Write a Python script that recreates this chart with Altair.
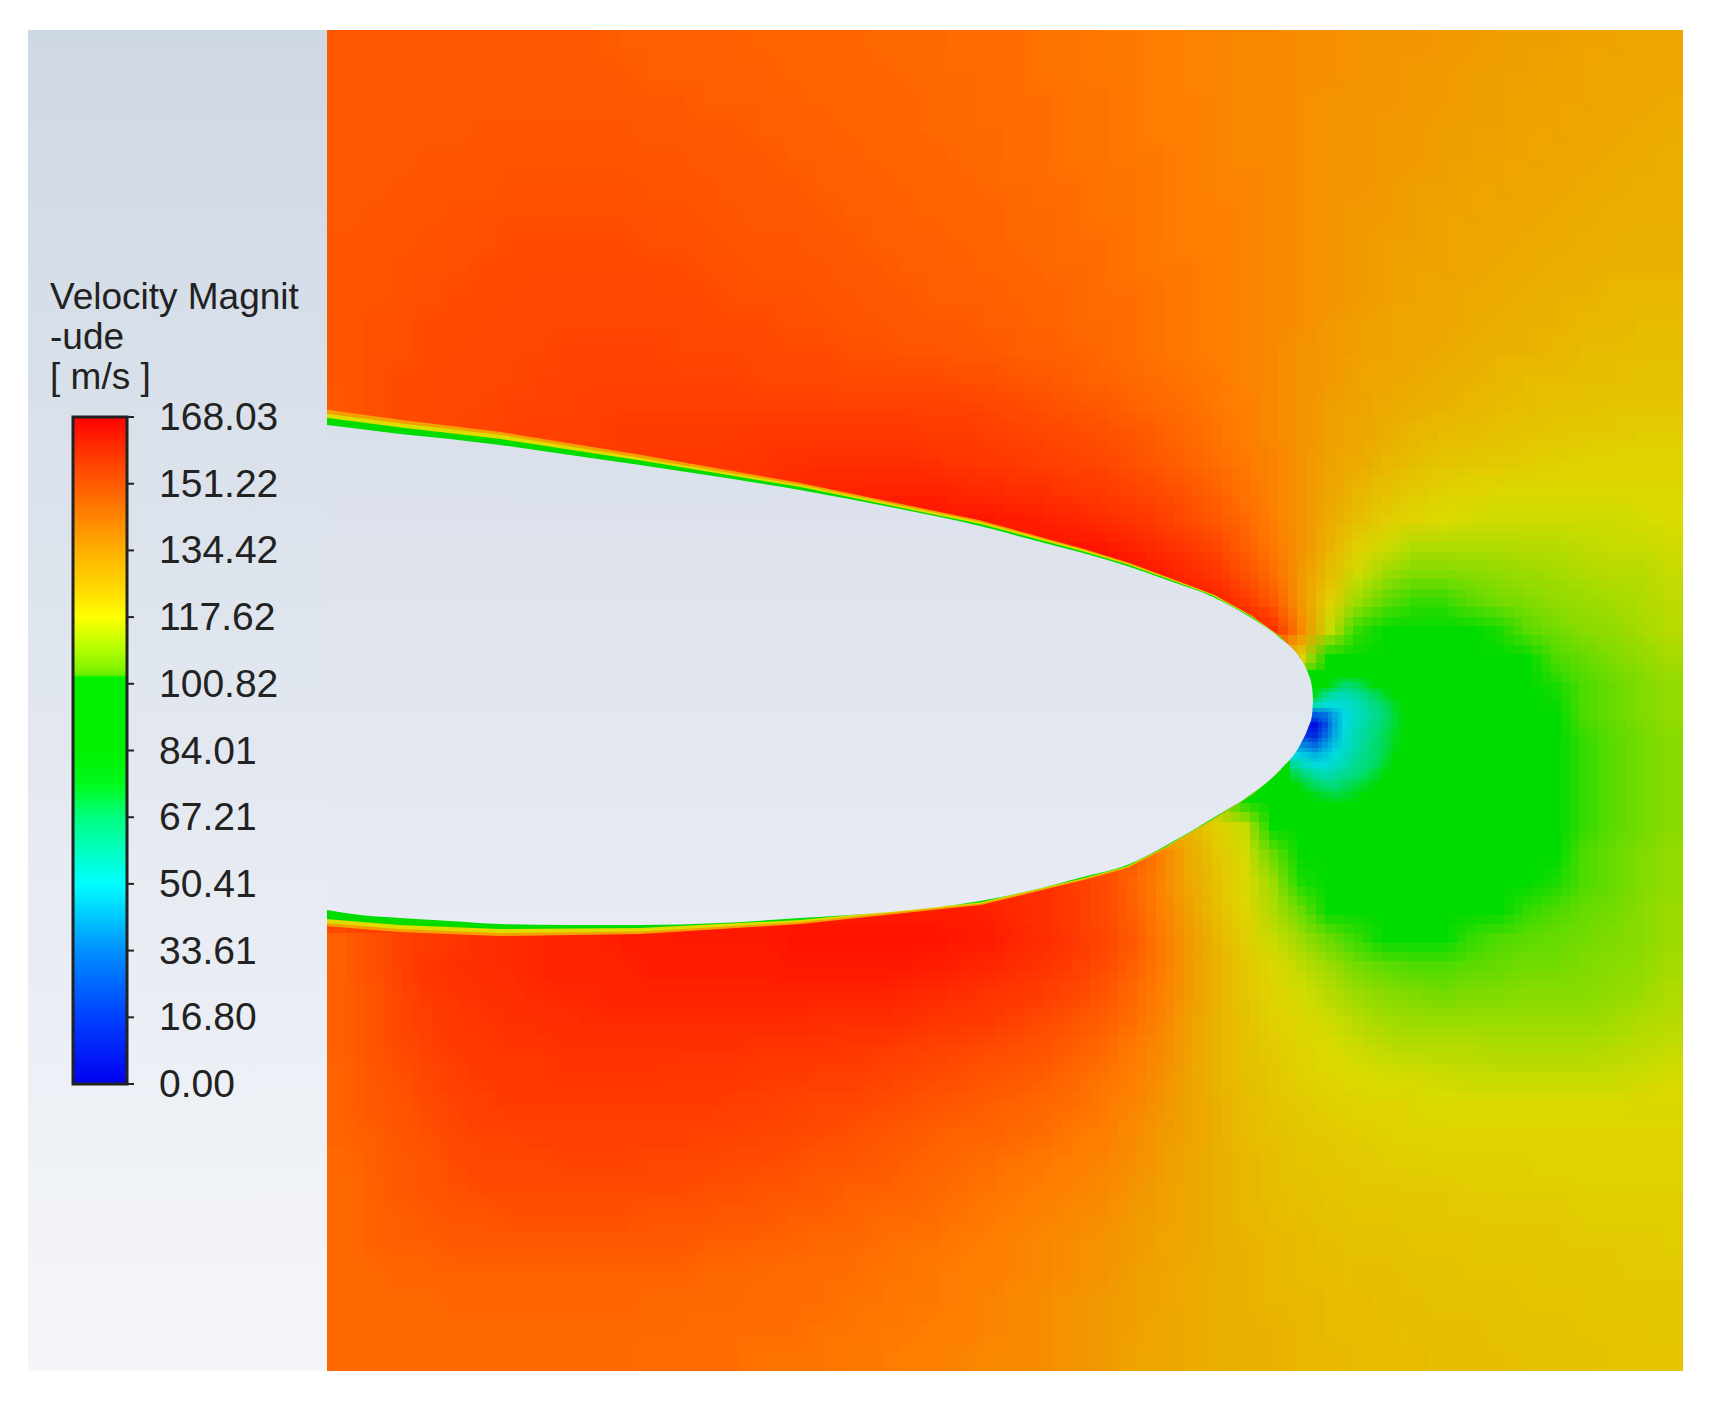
import altair as alt
import pandas as pd

# ---------- colour legend ----------
legend_title = ["Velocity Magnit", "-ude", "[ m/s ]"]
tick_values = [168.03, 151.22, 134.42, 117.62, 100.82, 84.01, 67.21, 50.41, 33.61, 16.80, 0.00]
tick_labels = ["168.03", "151.22", "134.42", "117.62", "100.82", "84.01", "67.21", "50.41", "33.61", "16.80", "0.00"]
bar_stop_values = [168.03, 160, 151.22, 134.42, 125, 117.62, 110, 105, 103.2, 102.4, 84, 75, 67.21, 50.41, 42, 33.61, 16.8, 0]
bar_stop_colors = ["#ff0000", "#ff3000", "#ff5a00", "#ffb000", "#ffd800", "#ffff00", "#b8ff00", "#88f400", "#70f000",
                   "#00f000", "#00f000", "#00fb20", "#00ff80", "#00ffff", "#00c8ff", "#0090ff", "#0040ff", "#0000f0"]
field_stop_values = [0, 12, 28, 45, 58, 70, 85, 100, 103, 107, 112, 118, 128, 136, 142, 148, 154, 160, 168.03]
field_stop_colors = ["#0000e0", "#0040e0", "#0090e0", "#00dce0", "#00dcb0", "#00dc70", "#00dc00", "#00dc00", "#50dc00",
                     "#80dc00", "#b0dc00", "#dedc00", "#e8c000", "#f2a000", "#ff8000", "#ff6000", "#ff4400", "#ff3000", "#ff0c00"]

# ---------- velocity, one list per row (top to bottom) ----------
row_00 = [149,149,149,149,149,149,149,149,149,149,148,148,148,148,148,147,147,147,147,146,146,146,145,145,145,144,144,143,143,142,141,141,140,140,139,139,138,138,138,137,137,136,136,136,135,135,134,134]
row_01 = [149,149,149,149,149,149,149,149,149,149,149,148,148,148,148,148,147,147,147,147,146,146,146,145,145,144,144,143,143,142,141,141,140,140,139,139,138,138,137,137,136,136,136,135,135,134,134,134]
row_02 = [149,149,149,149,149,149,149,149,149,149,149,149,149,148,148,148,148,147,147,147,147,146,146,145,145,145,144,144,143,142,142,141,140,140,139,138,138,138,137,137,136,136,135,135,135,134,134,133]
row_03 = [149,149,149,149,149,150,150,150,150,150,150,149,149,149,149,148,148,148,147,147,147,146,146,146,145,145,144,144,143,142,142,141,140,140,139,138,138,137,137,136,136,136,135,135,134,134,133,133]
row_04 = [149,149,149,150,150,150,150,150,150,150,150,150,150,149,149,149,148,148,148,147,147,147,146,146,145,145,144,144,143,143,142,141,140,140,139,138,138,137,137,136,136,135,135,134,134,133,133,132]
row_05 = [149,149,150,150,150,150,151,151,151,151,151,150,150,150,149,149,149,148,148,148,147,147,147,146,146,145,145,144,144,143,142,141,141,140,139,138,138,137,136,136,135,135,134,134,133,133,132,132]
row_06 = [149,150,150,150,151,151,151,151,151,151,151,151,151,150,150,149,149,149,148,148,148,147,147,147,146,146,145,144,144,143,142,142,141,140,139,138,137,137,136,135,135,134,134,133,133,132,132,132]
row_07 = [150,150,150,151,151,151,152,152,152,152,152,151,151,151,150,150,150,149,149,148,148,148,147,147,146,146,145,145,144,143,142,142,141,140,139,138,137,136,136,135,134,134,133,133,132,132,131,131]
row_08 = [150,150,151,151,151,152,152,152,152,152,152,152,152,151,151,150,150,150,149,149,148,148,148,147,147,146,146,145,144,143,143,142,141,140,139,138,137,136,135,135,134,133,133,132,132,131,131,131]
row_09 = [150,150,151,151,152,152,152,153,153,153,153,152,152,152,151,151,151,150,150,149,149,148,148,148,147,147,146,145,145,144,143,142,141,140,139,138,137,136,135,134,133,133,132,131,131,130,130,130]
row_10 = [150,151,151,152,152,152,153,153,153,153,153,153,153,152,152,152,151,151,150,150,149,149,149,148,148,147,146,146,145,144,143,142,141,140,139,137,136,135,134,134,133,132,131,131,130,130,129,129]
row_11 = [150,151,151,152,152,153,153,153,154,154,154,154,153,153,153,152,152,152,151,151,150,150,149,149,148,148,147,146,145,144,143,142,141,140,138,137,136,135,134,133,132,131,131,130,129,129,128,128]
row_12 = [150,151,152,152,153,153,153,154,154,154,154,154,154,154,154,153,153,153,152,152,152,152,151,151,150,149,148,147,146,145,144,143,141,140,138,137,135,134,133,132,131,130,129,129,128,128,127,127]
row_13 = [149,151,152,152,153,153,154,154,154,155,155,155,155,155,155,155,155,155,155,155,155,154,154,153,152,151,150,149,147,146,145,143,142,140,138,136,135,133,132,131,130,129,128,127,127,126,126,126]
row_14 = [150,151,152,153,153,154,154,155,155,155,156,156,156,156,156,157,157,157,157,157,157,156,156,155,154,153,152,151,150,148,146,144,142,140,138,136,134,132,130,129,128,127,126,125,124,124,123,123]
row_15 = [150,151,152,153,154,154,155,155,155,156,156,157,157,157,158,158,159,160,160,160,160,159,158,157,156,155,154,153,151,149,147,145,143,141,138,135,133,130,128,126,125,124,123,122,121,120,120,120]
row_16 = [155]*15 + [160,161,162,162,163,163,163,162,161,160,159,157,156,154,152,150,147,144,141,138,134,130,127,124,122,120,119,119,119,119,119,119,119]
row_17 = [158]*19 + [165,165,165,165,165,164,163,162,160,158,155,152,149,146,142,138,133,128,123,120,118,117,116,116,116,116,116,117,118]
row_18 = [160]*24 + [166,166,166,165,163,160,157,153,148,143,138,131,122,116,112,112,112,112,113,113,114,115,115,116]
row_19 = [160]*27 + [168,167,165,161,157,151,145,137,128,116,110,107,107,108,109,110,111,112,113,113,115]
row_20 = [160]*30 + [166,163,157,149,137,122,110,104,102,102,104,106,107,109,110,111,112,114]
row_21 = [160]*32 + [165,160,140,115,102,96,95,95,98,101,104,106,108,109,111,113]
row_22 = [150]*33 + [130,120,100,95,95,95,95,95,95,99,103,105,107,109,111]
row_23 = [95]*35 + [92,92,92,92,92,92,92,95,101,103,105,107,109]
row_24 = [95]*35 + [92,92,92,92,92,92,92,95,100,103,105,107,109]
row_25 = [95]*35 + [92,92,92,92,92,92,92,93,98,102,104,106,108]
row_26 = [95]*35 + [92,92,92,92,92,92,92,93,98,102,104,106,108]
row_27 = [110]*32 + [100,95,92,92,92,92,92,92,92,92,93,98,102,104,106,108]
row_28 = [130]*31 + [122,115,100,95,92,92,92,92,92,92,92,93,98,102,104,106,108]
row_29 = [150]*29 + [142,133,125,117,105,98,95,95,95,95,95,95,95,95,100,103,105,107,109]
row_30 = [160]*26 + [155,152,147,141,134,127,119,110,101,97,95,95,95,95,95,95,98,101,103,105,107,109]
row_31 = [164]*22 + [164,163,161,159,156,152,148,142,136,128,120,112,105,100,97,95,95,95,98,100,102,103,105,106,108,110]
row_32 = [148,151,154,156,158,160,161,162,163,163,164,164,165,165,165,165,166,166,166,166,166,166,165,164,162,160,157,153,149,143,137,130,123,115,110,105,102,100,100,100,102,103,104,105,106,107,108,110]
row_33 = [148,151,154,157,159,160,161,162,163,163,163,164,164,164,164,164,165,165,165,165,165,164,163,162,160,158,155,152,148,143,137,131,125,119,114,110,106,104,103,103,104,105,106,106,107,108,109,111]
row_34 = [148,150,153,156,158,159,160,161,162,162,163,163,163,163,163,163,163,163,163,163,162,161,160,158,157,155,153,150,146,142,137,131,126,121,117,113,110,108,107,106,107,107,108,108,108,109,110,112]
row_35 = [148,150,153,155,157,158,159,160,160,161,161,161,161,161,161,161,161,160,160,160,159,158,157,156,154,152,150,148,145,141,136,131,127,122,119,116,113,111,110,110,110,110,110,110,110,111,112,113]
row_36 = [148,150,152,154,156,157,158,158,159,159,159,159,159,159,159,158,158,158,157,156,155,154,153,152,151,150,148,146,143,140,136,131,127,124,121,118,116,114,113,113,113,112,112,112,112,113,114,115]
row_37 = [147,149,151,153,155,156,157,157,158,158,158,158,157,157,157,156,156,155,155,154,153,152,151,150,149,148,146,144,142,139,135,131,128,125,122,120,118,117,117,116,115,115,115,115,115,115,116,117]
row_38 = [147,149,150,152,154,155,156,156,156,156,156,156,156,156,155,155,154,153,153,152,151,150,149,148,147,146,145,143,141,138,135,132,129,126,124,122,121,120,119,118,118,118,118,118,118,118,119,119]
row_39 = [147,148,150,151,153,154,154,155,155,155,155,155,155,154,154,153,153,152,151,150,149,148,147,147,146,145,143,142,140,137,135,132,129,127,125,124,123,122,121,121,120,120,120,120,120,120,120,120]
row_40 = [146,148,149,150,152,153,153,153,154,154,154,153,153,153,152,152,151,150,150,149,148,147,146,145,144,143,142,141,139,137,134,132,130,128,126,125,124,123,123,122,122,122,122,121,121,121,121,121]
row_41 = [146,147,149,150,151,152,152,152,152,152,152,152,152,151,151,150,150,149,148,148,147,146,145,144,143,142,141,140,138,136,134,132,130,128,127,126,125,125,124,124,123,123,123,123,122,122,122,122]
row_42 = [146,147,148,149,150,150,151,151,151,151,151,150,150,150,149,149,148,148,147,146,146,145,144,143,142,141,140,139,137,136,134,132,130,129,128,127,126,126,125,125,125,124,124,124,123,123,123,123]
row_43 = [146,147,148,148,149,149,149,149,149,149,149,149,149,148,148,147,147,146,146,145,144,144,143,142,141,140,139,138,137,135,134,132,131,130,129,128,127,127,126,126,126,125,125,125,124,124,124,123]
row_44 = [146,146,147,147,147,147,147,147,147,147,147,147,147,146,146,146,145,145,145,144,144,143,142,142,141,140,139,138,136,135,133,132,131,130,129,129,128,128,127,127,126,126,126,125,125,125,124,124]
row_45 = [146,146,146,146,147,147,147,147,147,147,147,146,146,146,146,145,145,145,144,144,143,143,142,141,140,139,138,137,136,135,133,132,131,130,130,129,129,128,128,127,127,127,126,126,126,125,125,125]
row_46 = [146,146,146,146,146,146,146,146,146,146,146,146,146,145,145,145,145,144,144,143,143,142,142,141,140,139,138,137,136,134,133,132,131,131,130,129,129,129,128,128,128,127,127,127,126,126,126,125]
row_47 = [146,146,146,146,146,146,146,146,146,146,146,145,145,145,145,144,144,144,143,143,142,142,141,140,140,139,138,137,135,134,133,132,131,131,130,130,129,129,129,128,128,128,127,127,127,126,126,126]
field_rows = [row_00,row_01,row_02,row_03,row_04,row_05,row_06,row_07,row_08,row_09,row_10,row_11,row_12,row_13,row_14,row_15,
              row_16,row_17,row_18,row_19,row_20,row_21,row_22,row_23,row_24,row_25,row_26,row_27,row_28,row_29,row_30,row_31,
              row_32,row_33,row_34,row_35,row_36,row_37,row_38,row_39,row_40,row_41,row_42,row_43,row_44,row_45,row_46,row_47]

# ---------- finer read of the stagnation zone off the nose ----------
nose_rows = [
    [92,92,92,92,92,88,88,90,92,92,92,92],
    [92,92,92,88,78,70,72,78,84,90,92,92],
    [88,86,80,66,58,56,60,66,72,80,88,92],
    [76,66,56,48,46,48,54,60,66,72,80,90],
    [38,28,18,22,34,44,52,58,64,70,78,90],
    [5,5,3,14,32,46,54,60,66,72,78,88],
    [10,10,8,20,34,48,56,62,68,74,80,88],
    [30,25,20,30,40,50,58,64,70,74,82,90],
    [45,40,36,40,46,54,60,66,70,76,84,92],
    [62,52,48,46,52,58,64,68,72,80,88,92],
    [76,68,62,58,60,64,68,72,78,84,90,92],
    [86,78,72,68,68,72,76,80,84,90,92,92],
    [92,88,82,78,76,78,82,86,90,92,92,92],
    [92,92,92,88,86,86,90,92,92,92,92,92],
]

# ---------- body outline ----------
body_x = [327,360,400,450,500,570,640,720,800,890,980,1033,1083,1127,1167,1213,1250,1280,1300,1308,1312,1313]
body_upper = [425,429,434,439,445,455,465,477,490,507,526,540,553,566,580,597,617,638,658,673,687,700]
body_lower = [910,915,918,921,924,925,925,923,918,912,901,890,877,865,845,818,795,770,745,728,715,700]

# boundary layer on each surface: half-thicknesses read at stations along it
upper_x = [327,400,500,640,800,980,1083,1127,1167,1213,1250,1280,1300]
upper_y = [425,434,445,465,490,526,553,566,580,597,617,638,658]
upper_green = [7,6.5,6,4.5,3,2,1.6,1.5,1.3,1.2,1,0.8,0.5]
upper_yellow = [11,10.5,10,7,5,4,3,2.6,2.2,2,1.6,1.2,0.6]
upper_orange = [15,14,13,10,7,5.5,4.2,3.6,2.8,2.5,2,1.5,0.7]
lower_x = [327,400,500,640,800,980,1083,1127,1167,1213,1250,1280]
lower_y = [910,918,924,925,918,901,877,865,845,818,795,770]
lower_green = [9,7,5,3,2,1.5,1.3,1.2,1,1,0.8,0.5]
lower_yellow = [13,11,9,6.5,4,2.5,2.1,2,1.6,1.4,1,0.6]
lower_orange = [16,14,12,9,6,4,3.2,3,2.2,1.8,1.2,0.7]

# ---------- scaffolding ----------
X0, X1, Y0, Y1 = 327, 1683, 30, 1371
LEFT = 28
xs = alt.Scale(domain=[8, 1703], range=[0, 1695], nice=False, zero=False)
ys = alt.Scale(domain=[8, 1393], range=[0, 1385], nice=False, zero=False)
bar_scale = alt.Scale(domain=[0, 168.03], range=[1076, 409], nice=False, zero=False)
field_color = alt.Scale(domain=field_stop_values, range=field_stop_colors, interpolate="rgb")

def X(f): return alt.X(f, type="quantitative", scale=xs, axis=None)
def Y(f): return alt.Y(f, type="quantitative", scale=ys, axis=None)
def YB(f): return alt.Y(f, type="quantitative", scale=bar_scale, axis=None)

n_r, n_c = len(field_rows), len(field_rows[0])

def grid_layer(rows, x_at, y_at, dx, dy, op, lims):
    """One pass of a grid; passes nudged by part of a cell are averaged to soften the cell steps."""
    x_lo, x_hi, y_lo, y_hi = lims
    recs = []
    for r, row in enumerate(rows):
        for c, v in enumerate(row):
            a = x_lo if c == 0 else max(x_lo, round(x_at(c) + dx))
            b = x_hi if c == len(row) - 1 else min(x_hi, round(x_at(c + 1) + dx))
            t = y_lo if r == 0 else max(y_lo, round(y_at(r) + dy))
            u = y_hi if r == len(rows) - 1 else min(y_hi, round(y_at(r + 1) + dy))
            recs.append(dict(x0=a, x1=b, y0=t, y1=u, v=v))
    return alt.Chart(pd.DataFrame(recs)).mark_rect(strokeWidth=0, opacity=op).encode(
        x=X("x0"), x2="x1", y=Y("y0"), y2="y1",
        color=alt.Color("v:Q", scale=field_color, legend=None))

passes = []
k = 0
for dy in (0, -9.3, 9.3):
    for dx in (0, -9.4, 9.4):
        k += 1
        passes.append(grid_layer(field_rows,
                                 lambda c: X0 + (X1 - X0) * c / n_c,
                                 lambda r: Y0 + (Y1 - Y0) * r / n_r,
                                 dx, dy, round(1 / k, 4), (X0, X1, Y0, Y1)))
k = 0
for dy in (-2.5, 2.5):
    for dx in (-2.5, 2.5):
        k += 1
        passes.append(grid_layer(nose_rows,
                                 lambda c: 1290 + 10 * c,
                                 lambda r: 670 + 10 * r,
                                 dx, dy, round(1 / k, 4), (1290, 1410, 670, 810)))

def trail(xv, yv, half, colour):
    df = pd.DataFrame(dict(x=xv, y=yv, w=[2 * h for h in half]))
    return alt.Chart(df).mark_trail(color=colour).encode(
        x=X("x"), y=Y("y"), size=alt.Size("w:Q", scale=None, legend=None))

strips = [trail(upper_x, upper_y, upper_orange, "#f4a000"),
          trail(upper_x, upper_y, upper_yellow, "#dedc00"),
          trail(upper_x, upper_y, upper_green, "#00dc00"),
          trail(lower_x, lower_y, lower_orange, "#f4a000"),
          trail(lower_x, lower_y, lower_yellow, "#dedc00"),
          trail(lower_x, lower_y, lower_green, "#00dc00")]

body_fill = alt.LinearGradient(gradient="linear", x1=0, x2=0, y1=0, y2=1,
                               stops=[alt.GradientStop(color="#dae0ea", offset=0),
                                      alt.GradientStop(color="#e8ebf3", offset=1)])
body = alt.Chart(pd.DataFrame(dict(x=body_x, u=body_upper, l=body_lower))).mark_area(
    color=body_fill, interpolate="monotone").encode(x=X("x"), y=Y("u"), y2="l")

panel_fill = alt.LinearGradient(gradient="linear", x1=0, x2=0, y1=0, y2=1,
                                stops=[alt.GradientStop(color="#ced8e4", offset=0),
                                       alt.GradientStop(color="#f5f6fa", offset=1)])
panel = alt.Chart(pd.DataFrame([dict(a=LEFT, b=X0, c=Y0, d=Y1)])).mark_rect(color=panel_fill, strokeWidth=0).encode(
    x=X("a"), x2="b", y=Y("c"), y2="d")

bar_fill = alt.LinearGradient(gradient="linear", x1=0, x2=0, y1=0, y2=1,
                              stops=[alt.GradientStop(color=col, offset=round(1 - v / 168.03, 4))
                                     for v, col in zip(bar_stop_values, bar_stop_colors)])
bar = alt.Chart(pd.DataFrame([dict(a=73, b=127, lo=0.0, hi=168.03)])).mark_rect(
    color=bar_fill, stroke="#222222", strokeWidth=3).encode(
    x=X("a"), x2="b", y=YB("lo"), y2="hi")

ticks = pd.DataFrame(dict(v=tick_values, t=tick_labels, a=[127] * len(tick_values), b=[134] * len(tick_values),
                          lx=[159] * len(tick_values)))
tick_rules = alt.Chart(ticks).mark_rule(color="#222222", strokeWidth=2).encode(
    x=X("a"), x2="b", y=YB("v"))
tick_text = alt.Chart(ticks).mark_text(align="left", baseline="middle", font="Liberation Sans", fontSize=39,
                                       color="#222222", dy=1).encode(
    x=X("lx"), y=YB("v"), text="t:N")

title_df = pd.DataFrame(dict(t=legend_title, x=[50] * 3, y=[309 + 40 * i for i in range(3)]))
title_text = alt.Chart(title_df).mark_text(align="left", baseline="alphabetic", font="Liberation Sans", fontSize=37,
                                           color="#222222").encode(
    x=X("x"), y=Y("y"), text="t:N")

chart = alt.layer(*passes, *strips, body, panel, bar, tick_rules, tick_text, title_text).resolve_scale(
    x="independent", y="independent", color="independent", size="independent"
).properties(width=1695, height=1385, padding=0, background="white").configure_view(stroke=None)

chart.save("out.html", embed_options={"renderer": "svg", "actions": False})
